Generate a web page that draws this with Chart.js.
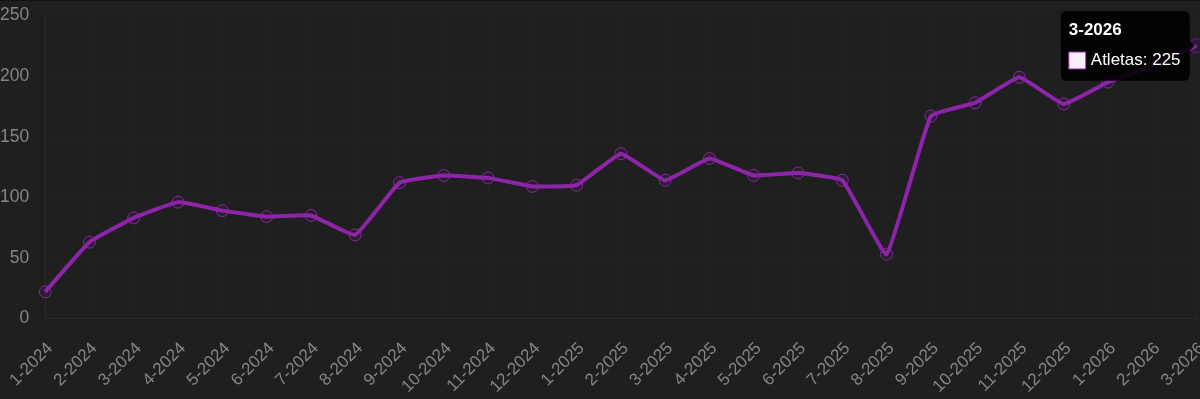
<!DOCTYPE html>
<html>
<head>
<meta charset="utf-8">
<script src="https://cdn.jsdelivr.net/npm/chart.js@4"></script>
<style>
  html, body { margin: 0; padding: 0; background: #1f1f1f; overflow: hidden; }
  body { width: 1200px; height: 399px; border-top: 1px solid #111; box-sizing: border-box; overflow: hidden; }
  #wrap { position: relative; width: 1231px; height: 412px; margin-left: -8px; margin-top: -4px; }
</style>
</head>
<body>
<div id="wrap"><canvas id="lineChart"></canvas></div>
<script>
let meses = ["1-2024", "2-2024", "3-2024", "4-2024", "5-2024", "6-2024", "7-2024", "8-2024", "9-2024",
    "10-2024", "11-2024", "12-2024", "1-2025", "2-2025", "3-2025", "4-2025", "5-2025", "6-2025",
    "7-2025", "8-2025", "9-2025", "10-2025", "11-2025", "12-2025", "1-2026", "2-2026", "3-2026"];
let atletas = [22, 63, 83, 96, 89, 84, 85, 69, 112,
    118, 116, 109, 110, 136, 114, 132, 118, 120,
    114, 53, 167, 178, 199, 177, 195, 208, 225];
let yTicks = [0, 50, 100, 150, 200, 250];

let purple = "#8e24aa";
let fontFam = "'Liberation Sans', Arial, sans-serif";

let chart = new Chart("lineChart", {
    type: "line",
    data: {
        labels: meses,
        datasets: [{
            label: "Atletas",
            data: atletas,
            borderColor: purple,
            backgroundColor: "rgba(142, 36, 170, 0.08)",
            borderWidth: 4,
            tension: 0.1,
            pointRadius: 6,
            pointBorderWidth: 1,
            pointHoverRadius: 7,
            pointHoverBorderWidth: 1
        }]
    },
    options: {
        responsive: true,
        maintainAspectRatio: false,
        animation: false,
        layout: { padding: { top: 1, bottom: 0 } },
        plugins: {
            legend: { display: false },
            tooltip: {
                backgroundColor: "rgba(0, 0, 0, 0.88)",
                titleFont: { family: fontFam, size: 17, weight: "bold" },
                bodyFont: { family: fontFam, size: 17 },
                padding: { top: 9, bottom: 10, left: 8, right: 9 },
                titleMarginBottom: 10,
                boxWidth: 17,
                boxHeight: 17,
                boxPadding: 3,
                cornerRadius: 6
            }
        },
        scales: {
            x: {
                grid: { color: "rgba(255, 255, 255, 0.015)" },
                border: { color: "rgba(255, 255, 255, 0.04)" },
                ticks: {
                    color: "#858585",
                    font: { family: fontFam, size: 17 },
                    autoSkip: false,
                    maxRotation: 45,
                    minRotation: 45,
                    padding: 12,
                    labelOffset: 5
                }
            },
            y: {
                min: yTicks[0],
                max: yTicks[yTicks.length - 1],
                grid: { color: "rgba(255, 255, 255, 0.015)" },
                border: { color: "rgba(255, 255, 255, 0.04)" },
                ticks: {
                    color: "#858585",
                    font: { family: fontFam, size: 17.5 },
                    stepSize: 50,
                    padding: 8
                }
            }
        }
    }
});

let active = [{ datasetIndex: 0, index: atletas.length - 1 }];
chart.setActiveElements(active);
chart.tooltip.setActiveElements(active, { x: 0, y: 0 });
chart.update();
</script>
</body>
</html>
